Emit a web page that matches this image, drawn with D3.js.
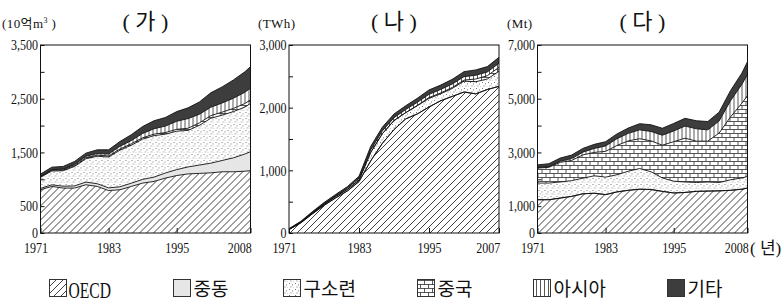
<!DOCTYPE html>
<html>
<head>
<meta charset="utf-8">
<script src="https://d3js.org/d3.v7.min.js"></script>
<style>
    body { margin: 0; background: #fff; }
    svg text { font-family: "Liberation Serif", "Noto Sans CJK KR", serif; fill: #111; }
    .kr { font-family: "Noto Sans CJK KR", sans-serif; }
</style>
</head>
<body>
<div id="chart"></div>
<script>
// 계열 (아래에서 위로 쌓는 순서)
var keys = ['OECD', '중동', '구소련', '중국', '아시아', '기타'];

// (가) 천연가스 생산, 10억m3
var gasYears  = [1971,1973,1975,1977,1979,1981,1983,1985,1987,1989,1991,1993,1995,1997,1999,2001,2003,2005,2007,2008];
var gasOECD   = [805,867,836,836,898,867,790,805,867,929,960,1022,1070,1100,1110,1120,1140,1140,1150,1160];
var gasME     = [25,30,35,40,50,50,50,55,60,70,80,95,110,130,155,180,210,260,320,354];
var gasUSSR   = [207,257,288,363,434,512,574,682,708,749,772,723,715,680,740,835,845,860,875,895];
var gasChina  = [10,15,15,18,20,20,20,22,25,25,28,30,35,40,45,50,55,60,65,70];
var gasAsia   = [10,12,15,20,25,30,35,50,60,80,100,120,150,180,160,155,170,190,210,218];
var gasOther  = [40,45,50,55,60,70,80,90,110,130,150,160,180,200,230,270,300,340,380,400];

// (나) 원자력 발전량, TWh
var nucYears  = [1971,1973,1975,1977,1979,1981,1983,1985,1987,1989,1991,1993,1995,1997,1999,2001,2003,2005,2007];
var nucOECD   = [55,160,305,440,560,670,820,1150,1430,1650,1820,1900,2010,2110,2180,2250,2220,2290,2340];
var nucME     = [0,0,0,0,0,0,0,0,0,0,0,0,0,0,0,0,0,0,0];
var nucUSSR   = [3,10,15,17,23,25,25,135,154,145,100,132,138,111,128,173,194,167,242];
var nucChina  = [0,0,0,0,0,0,0,0,0,0,0,3,13,14,15,17,43,53,62];
var nucAsia   = [2,3,5,10,12,20,30,40,45,45,50,50,52,55,55,55,60,60,65];
var nucOther  = [10,12,15,18,20,25,30,55,60,60,60,65,70,70,75,80,85,85,95];

// (다) 석탄 생산, Mt
var coalYears = [1971,1973,1975,1977,1979,1981,1983,1985,1987,1989,1991,1993,1995,1997,1999,2001,2003,2005,2007,2008];
var coalOECD  = [1239,1239,1300,1363,1460,1480,1430,1530,1590,1630,1620,1550,1490,1510,1550,1560,1570,1590,1630,1673];
var coalME    = [0,0,0,0,0,0,0,0,0,0,0,0,0,0,0,0,0,0,0,0];
var coalUSSR  = [620,620,600,587,580,650,650,640,710,770,660,500,440,390,330,340,310,390,420,433];
var coalChina = [557,586,730,750,870,870,960,1090,1130,1110,1150,1220,1470,1630,1540,1520,1840,2340,2780,3014];
var coalAsia  = [20,25,40,70,100,150,200,250,280,330,350,370,400,450,460,420,450,600,700,780];
var coalOther = [100,110,120,130,140,150,160,180,200,230,250,260,280,290,300,310,330,380,420,480];

var W = 782, H = 304, pw = 210, ph = 188, plotTop = 45;

var svg = d3.select('#chart').append('svg').attr('width', W).attr('height', H);
var defs = svg.append('defs');

function pat(id, w, h) {
    var p = defs.append('pattern').attr('id', id).attr('patternUnits', 'userSpaceOnUse')
        .attr('width', w).attr('height', h);
    p.append('rect').attr('width', w).attr('height', h).attr('fill', '#fff');
    return p;
}
// 빗금
pat('hatch', 7, 7).append('path').attr('d', 'M-1,1 L1,-1 M0,7 L7,0 M6,8 L8,6')
    .attr('stroke', '#111').attr('stroke-width', 0.8);
// 점
var dp = pat('dots', 6, 6);
[[1, 1], [4, 2.5], [2.5, 4.5], [5.5, 5.5]].forEach(function (c) {
    dp.append('rect').attr('x', c[0]).attr('y', c[1]).attr('width', 0.9).attr('height', 0.9).attr('fill', '#555');
});
// 벽돌
pat('brick', 8, 8).append('path').attr('d', 'M0,0.5 H8 M0,4.5 H8 M0.5,0.5 V4.5 M4.5,4.5 V8.5')
    .attr('stroke', '#111').attr('stroke-width', 0.7).attr('fill', 'none');
// 세로줄
pat('vline', 4, 4).append('path').attr('d', 'M0.5,0 V4').attr('stroke', '#111').attr('stroke-width', 0.7);

var fills = {'OECD': 'url(#hatch)', '중동': '#e6e6e6', '구소련': 'url(#dots)',
             '중국': 'url(#brick)', '아시아': 'url(#vline)', '기타': '#3d3d3d'};

function drawChart(cfg) {
    var g = svg.append('g').attr('transform', 'translate(' + cfg.left + ',' + plotTop + ')');
    var x = d3.scaleLinear().domain([cfg.years[0], cfg.years[cfg.years.length - 1]]).range([0, pw]);
    var y = d3.scaleLinear().domain([0, cfg.max]).range([ph, 0]);

    var rows = cfg.years.map(function (yr, i) {
        var r = {year: yr};
        keys.forEach(function (k, j) { r[k] = cfg.series[j][i]; });
        return r;
    });
    var stacked = d3.stack().keys(keys)(rows);

    var area = d3.area().x(function (d) { return x(d.data.year); })
        .y0(function (d) { return y(d[0]); }).y1(function (d) { return y(d[1]); });
    var line = d3.line().x(function (d) { return x(d.data.year); })
        .y(function (d) { return y(d[1]); });

    g.selectAll('path.layer').data(stacked).enter().append('path')
        .attr('class', 'layer').attr('d', area).attr('fill', function (d) { return fills[d.key]; });
    g.selectAll('path.edge').data(stacked).enter().append('path')
        .attr('class', 'edge').attr('d', line).attr('fill', 'none')
        .attr('stroke', '#111').attr('stroke-width', 0.9);

    // y축
    var ya = g.append('g').call(d3.axisLeft(y).tickValues(d3.range(0, cfg.max + 1, cfg.step))
        .tickSize(-4).tickPadding(3)
        .tickFormat(function (d) { return cfg.labels.indexOf(d) >= 0 ? d3.format(',')(d) : ''; }));
    ya.attr('font-family', null).attr('font-size', null);
    ya.select('.domain').remove();
    ya.selectAll('line').attr('stroke', '#111');
    ya.selectAll('text').attr('transform', 'scale(0.8,1)').style('font-size', '15px');

    // x축
    var xa = g.append('g').attr('transform', 'translate(0,' + ph + ')')
        .call(d3.axisBottom(x).tickValues(cfg.xticks).tickSize(-5).tickPadding(9).tickFormat(d3.format('d')));
    xa.attr('font-family', null).attr('font-size', null);
    xa.select('.domain').remove();
    xa.selectAll('line').attr('stroke', '#111');
    var n = cfg.xticks.length;
    xa.selectAll('text').attr('transform', 'scale(0.8,1)').style('font-size', '15px')
        .each(function (d, i) {
            if (i === 0) d3.select(this).attr('x', -5 / 0.8);
            if (i === n - 1) d3.select(this).attr('text-anchor', 'end').attr('x', 1);
        });

    g.append('rect').attr('width', pw).attr('height', ph).attr('fill', 'none')
        .attr('stroke', '#111').attr('stroke-width', 1);

    // 제목, 단위
    svg.append('text').attr('x', cfg.left + pw / 2).attr('y', 28.5).attr('text-anchor', 'middle')
        .style('font-size', '22px').text('( ' + cfg.title + ' )');
    var u = svg.append('text').attr('x', cfg.unitX).attr('y', 28).style('font-size', '13px')
        .style('letter-spacing', '0.4px');
    u.text(cfg.unit);
    if (cfg.sup) {
        u.append('tspan').attr('dy', -5).style('font-size', '8px').text(cfg.sup);
        u.append('tspan').attr('dy', 5).text(' )');
    }
}

var xt = function (last) { return [1971, 1983, 1995, last]; };

drawChart({left: 40.5, title: '가', unit: '(10억m', sup: '3', unitX: 2, max: 3500, step: 500,
    labels: [0, 500, 1500, 2500, 3500], years: gasYears, xticks: xt(2008),
    series: [gasOECD, gasME, gasUSSR, gasChina, gasAsia, gasOther]});
drawChart({left: 289, title: '나', unit: '(TWh)', unitX: 258, max: 3000, step: 500,
    labels: [0, 1000, 2000, 3000], years: nucYears, xticks: xt(2007),
    series: [nucOECD, nucME, nucUSSR, nucChina, nucAsia, nucOther]});
drawChart({left: 537.5, title: '다', unit: '(Mt)', unitX: 507, max: 7000, step: 1000,
    labels: [0, 1000, 3000, 5000, 7000], years: coalYears, xticks: xt(2008),
    series: [coalOECD, coalME, coalUSSR, coalChina, coalAsia, coalOther]});

svg.append('text').attr('x', 750).attr('y', 254).style('font-size', '17px').text('( 년)');

// 범례
var legX = [49, 173, 283, 417, 533, 667];
var leg = svg.append('g');
keys.forEach(function (k, i) {
    leg.append('rect').attr('x', legX[i] + 0.5).attr('y', 279.5).attr('width', 17).attr('height', 17)
        .attr('fill', fills[k]).attr('stroke', '#333').attr('stroke-width', 1);
    if (k === 'OECD') {
        leg.append('text').attr('transform', 'translate(' + (legX[i] + 19.5) + ',297.5) scale(0.65,1)')
            .style('font-size', '24px').text(k);
    } else {
        leg.append('text').attr('class', 'kr').attr('x', legX[i] + 20.5).attr('y', 296)
            .style('font-size', '19px').text(k);
    }
});
</script>
</body>
</html>
